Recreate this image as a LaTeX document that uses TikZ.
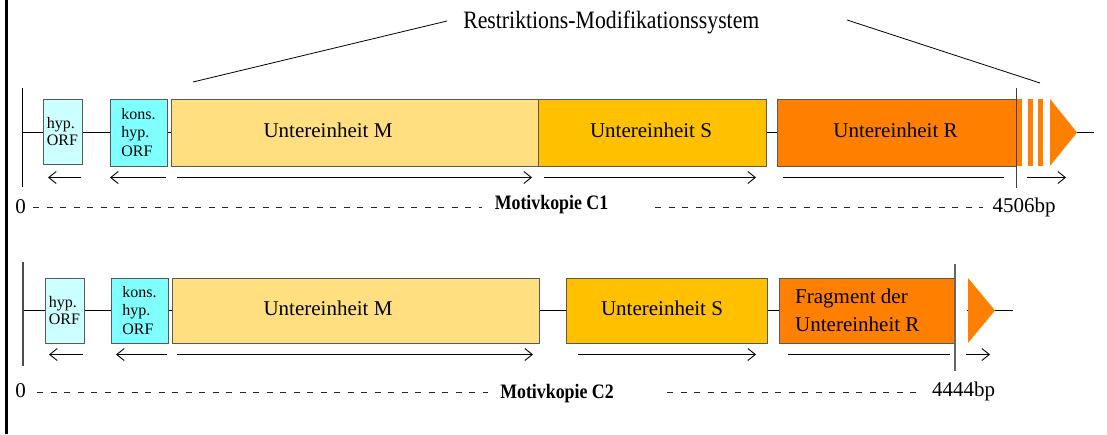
\documentclass[tikz,border=0pt]{standalone}
\usepackage{fontspec}
\setmainfont{Liberation Serif}
\usetikzlibrary{arrows.meta}
\definecolor{orfpale}{HTML}{CCFFFF}
\definecolor{orfcyan}{HTML}{80FFFF}
\definecolor{subM}{HTML}{FFDF80}
\definecolor{subS}{HTML}{FFC000}
\definecolor{subR}{HTML}{FF8000}
\begin{document}
\begin{tikzpicture}[x=1pt,y=-1pt,
  gene/.style={draw=black!65, line width=0.8pt, inner sep=0pt, outer sep=0pt,
    font=\fontsize{21}{25}\selectfont},
  orfbox/.style={gene, font=\fontsize{16}{16.7}\selectfont, align=left, fill=orfpale},
  konsbox/.style={gene, font=\fontsize{16}{18.3}\selectfont, align=left, fill=orfcyan},
  backbone/.style={line width=1pt},
  readdir/.style={line width=0.9pt, -{Straight Barb[length=7.5pt,width=12pt]}},
  readplain/.style={line width=0.9pt},
  ruler/.style={dash pattern=on 6pt off 7.5pt, line width=0.8pt, black!85},
  lbl/.style={font=\fontsize{21}{25}\selectfont, inner sep=0pt, anchor=base},
  copylbl/.style={font=\bfseries\fontsize{20.5}{24}\selectfont, inner sep=0pt, anchor=base},
  tip/.style={fill=subR, draw=none}
]
\useasboundingbox (0,0) rectangle (1107,434);

% left frame line
\draw[line width=3pt] (6.5,0) -- (6.5,434);

% heading spanning the R-M system
\node[font=\fontsize{25}{30}\selectfont, inner sep=0pt, anchor=base] (rm) at (611.3,28.3)
  {\scalebox{0.87}[1]{Restriktions-Modifikationssystem}};
\coordinate (rmL) at (447,21);
\coordinate (rmR) at (847,20);
\coordinate (spanL) at (193,82);
\coordinate (spanR) at (1040,83);
\draw[line width=0.8pt] (rmL) -- (spanL);
\draw[line width=0.8pt] (rmR) -- (spanR);

% ---------- copy C1 ----------
\coordinate (c1start) at (22,132.5);
\coordinate (c1end) at (1016,132.5);
\coordinate (c1tail) at (1050,132.5);
\coordinate (c1out) at (1094,132.5);
\draw[backbone] (c1start) -- (c1end);
\draw[backbone] (c1tail) -- (c1out);
\draw[line width=1pt] (22,88) -- (22,187);

\node[orfbox, minimum width=39, minimum height=65] (h1) at (62.5,131.5) {hyp.\\ORF};
\node[konsbox, minimum width=57, minimum height=67] (k1) at (138.5,132.5) {kons.\\hyp.\\ORF};
\node[gene, fill=subM, minimum width=367, minimum height=67] (m1) at (354.5,132.5) {};
\node[gene, fill=subS, minimum width=228, minimum height=67] (s1) at (652,132.5) {};
\node[gene, fill=subR, minimum width=239, minimum height=67] (r1) at (896.5,132.5) {};
\node[lbl] (m1t) at (328,137) {Untereinheit M};
\node[lbl] (s1t) at (651,137) {Untereinheit S};
\node[lbl] (r1t) at (895.5,137) {Untereinheit R};

% truncated continuation of R
\fill[tip] (1017,99) rectangle (1022,166);
\fill[tip] (1028,99) rectangle (1033,166);
\fill[tip] (1038,99) rectangle (1043,166);
\fill[tip] (1050,99) -- (1077,132.5) -- (1050,166) -- cycle;
\draw[line width=1pt, black!75] (1016,88) -- (1016,188);

% reading directions C1
\draw[readdir] (81,177.5) -- (48,177.5);
\draw[readdir] (166,177.5) -- (110,177.5);
\draw[readdir] (177,177.5) -- (532,177.5);
\draw[readdir] (544,177.5) -- (756,177.5);
\draw[readplain] (783,177.5) -- (1004,177.5);
\draw[readdir] (1027,177.5) -- (1066,177.5);

% scale C1
\node[lbl] (z1) at (20.5,213.5) {0};
\node[lbl, anchor=base west] (e1) at (992.5,212) {4506bp};
\node[copylbl] (c1) at (551.5,209.3) {\scalebox{0.87}[1]{Motivkopie C1}};
\draw[ruler] (33,207) -- (482,207);
\draw[ruler] (655,207) -- (983,207);

% ---------- copy C2 ----------
\coordinate (c2start) at (23,310.5);
\coordinate (c2end) at (955,310.5);
\coordinate (c2tail) at (967,310.5);
\coordinate (c2out) at (1013,310.5);
\draw[backbone] (c2start) -- (c2end);
\draw[backbone] (c2tail) -- (c2out);
\draw[line width=2pt, black!70] (23,262) -- (23,366);

\node[orfbox, minimum width=39, minimum height=65] (h2) at (64.5,310.5) {hyp.\\ORF};
\node[konsbox, minimum width=57, minimum height=65] (k2) at (139.5,310.5) {kons.\\hyp.\\ORF};
\node[gene, fill=subM, minimum width=367, minimum height=65] (m2) at (355.5,310.5) {};
\node[gene, fill=subS, minimum width=201, minimum height=65] (s2) at (666.5,310.5) {};
\node[gene, fill=subR, minimum width=176, minimum height=65] (r2) at (867,310.5) {};
\node[lbl] (m2t) at (328,315) {Untereinheit M};
\node[lbl] (s2t) at (662,315) {Untereinheit S};
\node[font=\fontsize{21}{28.7}\selectfont, inner sep=0pt, align=left, anchor=base west]
  (r2t) at (795,331.7) {Fragment der\\Untereinheit R};

\fill[tip] (968,278) -- (995,310.5) -- (968,343) -- cycle;
\draw[line width=1.3pt, black!60] (955,264) -- (955,371);

% reading directions C2
\draw[readdir] (83,354.5) -- (49,354.5);
\draw[readdir] (167,354.5) -- (116,354.5);
\draw[readdir] (177,354.5) -- (533,354.5);
\draw[readdir] (578,354.5) -- (756,354.5);
\draw[readplain] (788,354.5) -- (950,354.5);
\draw[readdir] (966,354.5) -- (990,354.5);

% scale C2
\node[lbl] (z2) at (20.5,397.5) {0};
\node[lbl, anchor=base west] (e2) at (932,396.7) {4444bp};
\node[copylbl] (c2) at (557,398.3) {\scalebox{0.87}[1]{Motivkopie C2}};
\draw[ruler] (37,392) -- (488,392);
\draw[ruler] (667,392) -- (920,392);
\end{tikzpicture}
\end{document}
